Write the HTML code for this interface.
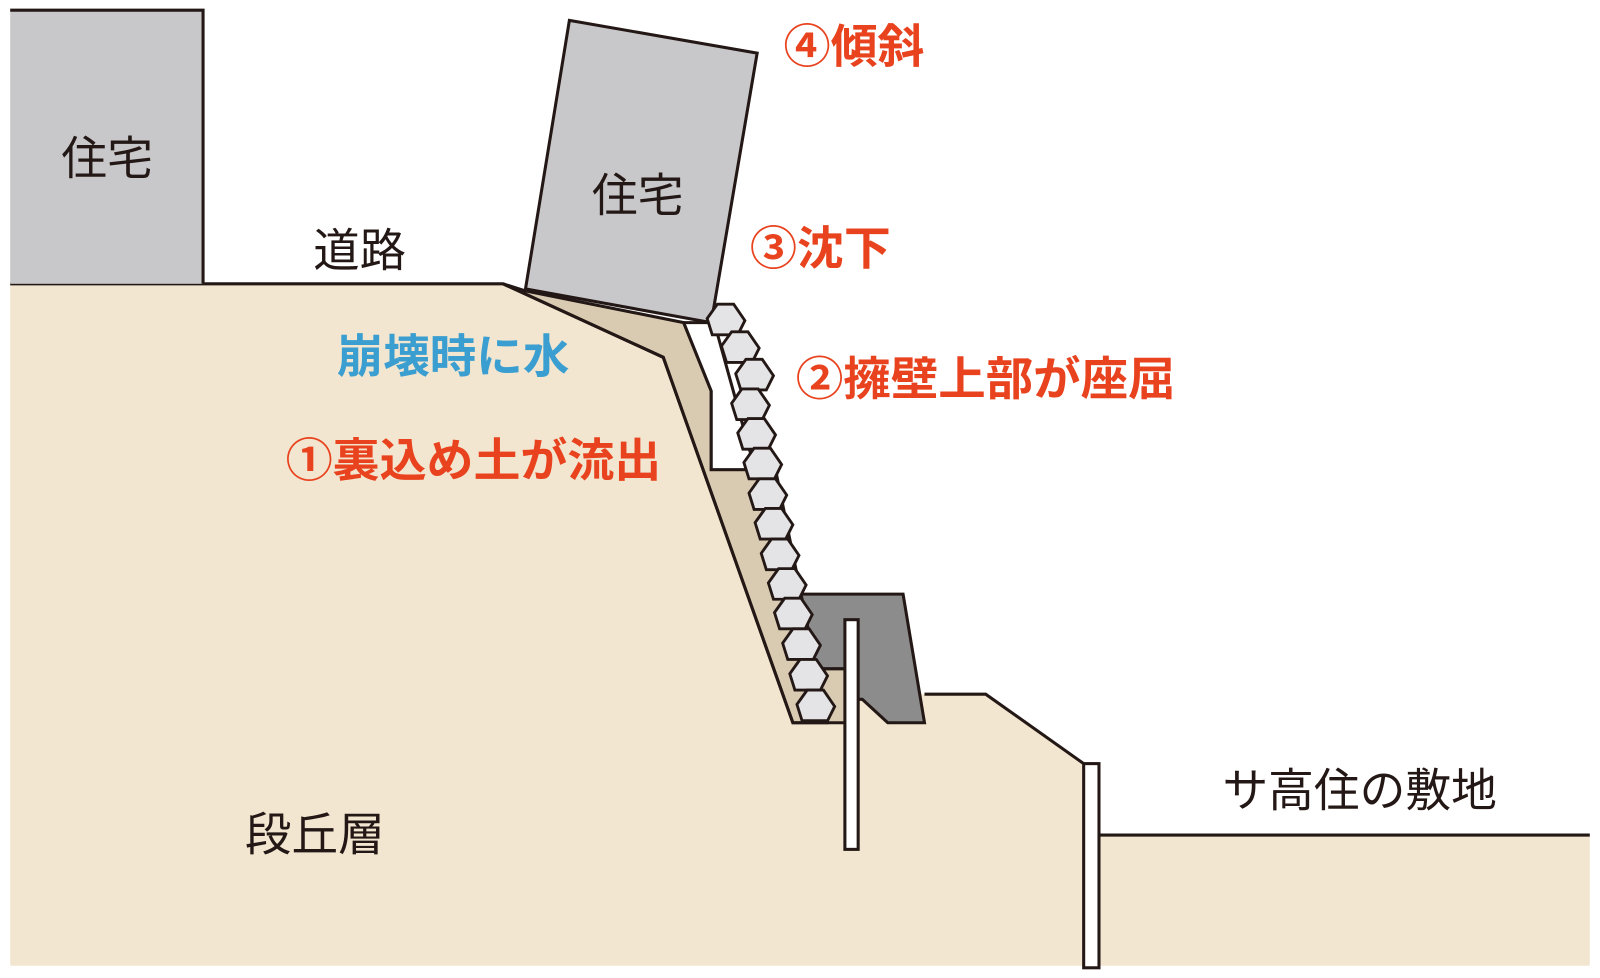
<!DOCTYPE html>
<html><head><meta charset="utf-8"><style>
html,body{margin:0;padding:0;background:#fff;}
svg{display:block;}
text{font-family:"Liberation Sans","Noto Sans CJK JP",sans-serif;}
</style></head><body>
<svg width="1600" height="978" viewBox="0 0 1568 958" preserveAspectRatio="none" xmlns="http://www.w3.org/2000/svg">
<g stroke="#231815" stroke-width="3" stroke-linejoin="miter">
<polygon points="10,278 493,278 650,350 777,708 800,680 906,680 966,680 1062,748 1062,946 10,946" fill="#F3E6D0" stroke="none"/>
<polygon points="1078,818 1558,818 1558,946 1078,946" fill="#F3E6D0" stroke="none"/>
<polygon points="493,278 515,285 670,316 697,383 697,460 760,460 800,655 830,655 830,708 777,708 650,350" fill="#D9CBB2"/>
<polygon points="670,316 700,316 740,460 697,460 697,383" fill="#fff"/>
<polyline points="10,278 493,278 650,350 777,708 812,708" fill="none"/>
<polyline points="906,680 966,680 1062,748" fill="none"/>
<polyline points="1078,818 1558,818" fill="none"/>
<rect x="10" y="10" width="189" height="268" fill="#C8C8CA" stroke="none"/>
<polyline points="10,10 199,10 199,278" fill="none"/>
<polygon points="558,20 742,52 697,316 515,283" fill="#C8C8CA"/>
<polygon points="785,582 885,582 906,708 870,708 845,685 835,685 835,655 800,655" fill="#8C8C8C"/>
<rect x="828" y="607" width="13" height="225" fill="#fff"/>
<rect x="1062" y="748" width="15" height="200" fill="#fff"/>
<g fill="#E4E4E6" stroke-width="2.8">
<polygon points="-9,-16 7,-16 18,0 11,14 -14,14 -19,-2" transform="translate(712,314)"/>
<polygon points="-9,-16 7,-16 18,0 11,14 -14,14 -19,-2" transform="translate(726,341)"/>
<polygon points="-9,-16 7,-16 18,0 11,14 -14,14 -19,-2" transform="translate(740,368)"/>
<polygon points="-9,-16 7,-16 18,0 11,14 -14,14 -19,-2" transform="translate(736,397)"/>
<polygon points="-9,-16 7,-16 18,0 11,14 -14,14 -19,-2" transform="translate(742,426)"/>
<polygon points="-9,-16 7,-16 18,0 11,14 -14,14 -19,-2" transform="translate(748,455)"/>
<polygon points="-9,-16 7,-16 18,0 11,14 -14,14 -19,-2" transform="translate(753,485)"/>
<polygon points="-9,-16 7,-16 18,0 11,14 -14,14 -19,-2" transform="translate(759,514)"/>
<polygon points="-9,-16 7,-16 18,0 11,14 -14,14 -19,-2" transform="translate(765,544)"/>
<polygon points="-9,-16 7,-16 18,0 11,14 -14,14 -19,-2" transform="translate(772,573)"/>
<polygon points="-9,-16 7,-16 18,0 11,14 -14,14 -19,-2" transform="translate(778,602)"/>
<polygon points="-9,-16 7,-16 18,0 11,14 -14,14 -19,-2" transform="translate(786,632)"/>
<polygon points="-9,-16 7,-16 18,0 11,14 -14,14 -19,-2" transform="translate(793,662)"/>
<polygon points="-9,-16 7,-16 18,0 11,14 -14,14 -19,-2" transform="translate(800,692)"/>
</g>
</g>
<g font-size="45" fill="#231815">
<text x="60" y="171" textLength="90" lengthAdjust="spacingAndGlyphs">住宅</text>
<text x="580" y="207" textLength="90" lengthAdjust="spacingAndGlyphs">住宅</text>
<text x="307" y="261" textLength="91" lengthAdjust="spacingAndGlyphs">道路</text>
<text x="1198" y="790" textLength="269" lengthAdjust="spacingAndGlyphs">サ高住の敷地</text>
<text x="240" y="833" textLength="137" lengthAdjust="spacingAndGlyphs">段丘層</text>
</g>
<g font-size="45" font-weight="bold">
<text x="330" y="365" fill="#3A9FD0" textLength="228" lengthAdjust="spacingAndGlyphs">崩壊時に水</text>
<text x="280" y="467" fill="#E8431E" textLength="368" lengthAdjust="spacingAndGlyphs">①裏込め土が流出</text>
<text x="768" y="61" fill="#E8431E" textLength="138" lengthAdjust="spacingAndGlyphs">④傾斜</text>
<text x="735" y="259" fill="#E8431E" textLength="138" lengthAdjust="spacingAndGlyphs">③沈下</text>
<text x="780" y="387" fill="#E8431E" textLength="372" lengthAdjust="spacingAndGlyphs">②擁壁上部が座屈</text>
</g>
</svg>
</body></html>
